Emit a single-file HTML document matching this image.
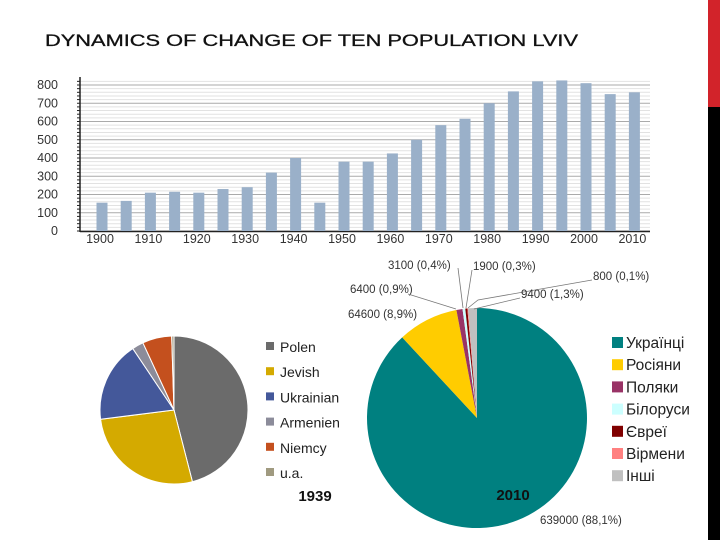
<!DOCTYPE html>
<html><head><meta charset="utf-8"><style>
body{margin:0;width:720px;height:540px;background:#fff;overflow:hidden;position:relative;font-family:"Liberation Sans",sans-serif}
svg{position:absolute;left:0;top:0}
</style></head><body>
<svg width="720" height="540">
<rect x="708" y="0" width="12" height="107" fill="#d2232a"/>
<rect x="708" y="107" width="12" height="433" fill="#000"/>
<text x="45" y="46" font-size="17" textLength="533" lengthAdjust="spacingAndGlyphs" fill="#111" stroke="#111" stroke-width="0.3">DYNAMICS OF CHANGE OF TEN POPULATION LVIV</text>
<g id="bars"></g>
<g id="pie1"></g>
<g id="pie2"></g>
</svg>
<script>
const years=[1900,1905,1910,1915,1920,1925,1930,1935,1940,1945,1950,1955,1960,1965,1970,1975,1980,1985,1990,1995,2000,2005,2010];
const population=[155,165,210,215,210,230,240,320,400,155,380,380,425,500,580,615,700,765,820,825,810,750,760];
const yTicks=[0,100,200,300,400,500,600,700,800];
const xLabels=[1900,1910,1920,1930,1940,1950,1960,1970,1980,1990,2000,2010];
const p1Labels=["Polen","Jevish","Ukrainian","Armenien","Niemcy","u.a."];
const p1Values=[46,27,17.6,2.5,6.4,0.5];
const p2Labels=["Українці","Росіяни","Поляки","Білоруси","Євреї","Вірмени","Інші"];
const p2Values=[88.1,8.9,0.9,0.4,0.3,0.1,1.3];
const p2Text=["639000 (88,1%)","64600 (8,9%)","6400 (0,9%)","3100 (0,4%)","1900 (0,3%)","800 (0,1%)","9400 (1,3%)"];
const NS="http://www.w3.org/2000/svg";
function mk(tag,attrs,parent,txt){const e=document.createElementNS(NS,tag);for(const k in attrs)e.setAttribute(k,attrs[k]);if(txt!==undefined)e.textContent=txt;parent.appendChild(e);return e;}
const bars=document.getElementById('bars');
const y0=231,yPer=146/800;
const yS=v=>y0-v*yPer;
const xS=yr=>102+(yr-1900)/5*24.2;
for(let v=0;v<=820;v+=20){const l=mk('line',{x1:80,x2:650,y1:yS(v),y2:yS(v),stroke:v%100===0?'#aaa':'#e2e2e2','stroke-width':1},bars);}
mk('line',{x1:80,x2:80,y1:77,y2:232,stroke:'#222','stroke-width':1.5},bars);
mk('line',{x1:80,x2:650,y1:231.5,y2:231.5,stroke:'#222','stroke-width':1.5},bars);
for(let v=0;v<=820;v+=20){mk('line',{x1:77,x2:80,y1:yS(v),y2:yS(v),stroke:'#222'},bars);}
yTicks.forEach(v=>{const t=mk('text',{x:58,y:yS(v)+4,'font-size':12.5,'text-anchor':'end',fill:'#333'},bars,v);});
xLabels.forEach(yr=>{const t=mk('text',{x:xS(yr)-2,y:243,'font-size':12.5,'text-anchor':'middle',fill:'#333'},bars,yr);});
years.forEach((yr,i)=>{const r=mk('rect',{x:xS(yr)-5.5,y:yS(population[i]),width:11,height:population[i]*yPer,fill:'#9ab0c9'},bars);});
function pie(g,cx,cy,r,vals,cols,stroke){const tot=vals.reduce((a,b)=>a+b,0);let a=0;vals.forEach((v,i)=>{const a1=a+v/tot*2*Math.PI;const p=(t)=>[cx+r*Math.sin(t),cy-r*Math.cos(t)];const [x1,y1]=p(a),[x2,y2]=p(a1);const s=mk('path',{d:`M${cx},${cy}L${x1},${y1}A${r},${r} 0 ${a1-a>Math.PI?1:0} 1 ${x2},${y2}Z`,fill:cols[i],stroke:stroke,'stroke-width':1},g);a=a1;});}
const g1=document.getElementById('pie1');
const c1=['#6b6b6b','#d4aa00','#44589a','#8c8c9a','#c4501e','#a09a80'];
pie(g1,174,410,74,p1Values,c1,'#fff');
p1Labels.forEach((l,i)=>{const y=347+i*25.2;mk('rect',{x:266,y:y-5,width:8,height:8,fill:c1[i]},g1);const t=mk('text',{x:280,y:y+5,'font-size':14,fill:'#222'},g1,l);});
mk('text',{x:315,y:501,'font-size':15,'font-weight':'bold','text-anchor':'middle',fill:'#111'},g1,'1939');
const g2=document.getElementById('pie2');
const c2=['#008080','#ffcc00','#993366','#ccffff','#800000','#ff8080','#c0c0c0'];
pie(g2,477,418,110,p2Values,c2,'none');
const f2={'font-size':11.5,fill:'#333'};
const lbl=[[540,524,null],[348,318,[[405,317],[407,312]]],[350,293,[[408,294],[456,309]]],[388,269,[[458,268],[463,308]]],[473,270,[[472,270],[466,308]]],[593,280,[[592,280],[478,300],[468,308]]],[521,298,[[520,298],[474,309]]]];
p2Text.forEach((s,i)=>{const [x,y,ln]=lbl[i];const t=mk('text',Object.assign({x:x,y:y},f2),g2,s);
if(ln){mk('polyline',{points:ln.map(p=>p.join(',')).join(' '),fill:'none',stroke:'#777','stroke-width':0.8},g2);}});
p2Labels.forEach((l,i)=>{const y=343+i*22.2;mk('rect',{x:612,y:y-6,width:11,height:11,fill:c2[i]},g2);const t=mk('text',{x:626,y:y+5,'font-size':15.5,fill:'#222',style:'font-family:"Liberation Sans","DejaVu Sans",sans-serif'},g2,l);});
mk('text',{x:513,y:500,'font-size':15,'font-weight':'bold','text-anchor':'middle',fill:'#111'},g2,'2010');
</script>
</body></html>
